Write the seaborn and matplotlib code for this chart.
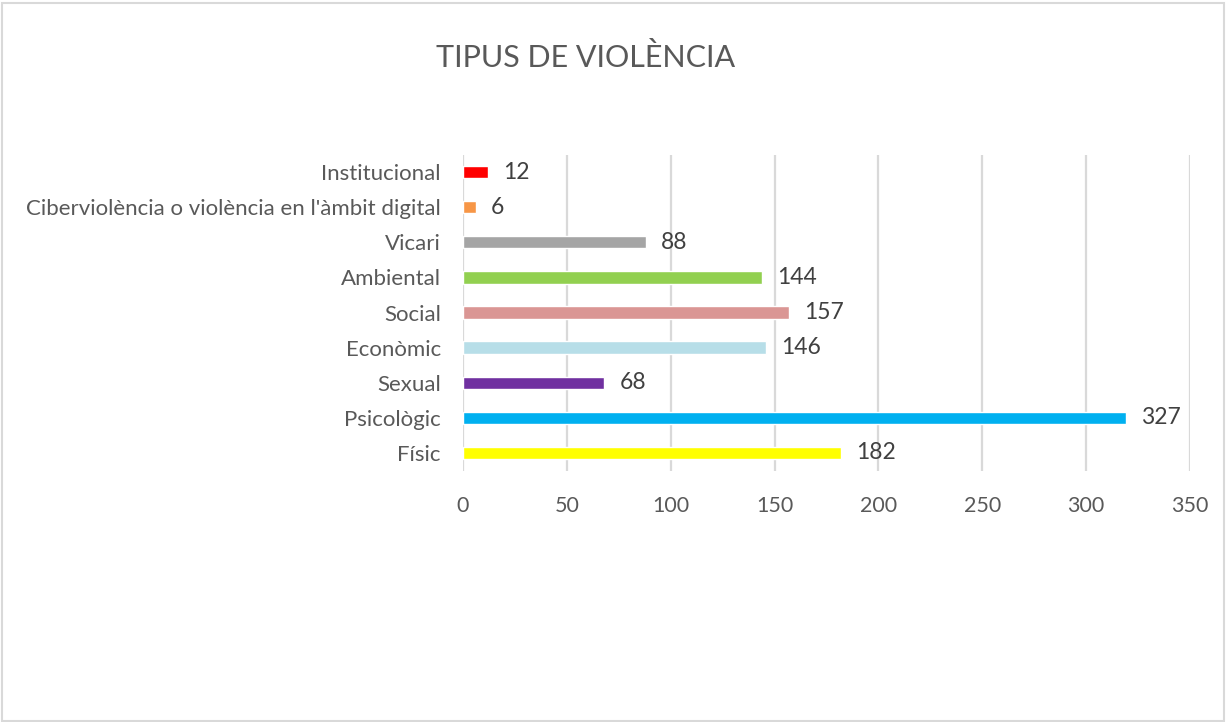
import pandas as pd
import seaborn as sns
import matplotlib.pyplot as plt
from matplotlib.patches import Rectangle

# categories top to bottom, as in the picture
categories = ["Institucional", "Ciberviolència o violència en l'àmbit digital", "Vicari",
              "Ambiental", "Social", "Econòmic", "Sexual", "Psicològic", "Físic"]
# bar lengths as drawn (the Psicològic bar stops near 319 although its label says 327)
values = [12, 6, 88, 144, 157, 146, 68, 319, 182]
value_labels = ["12", "6", "88", "144", "157", "146", "68", "327", "182"]
colors = ["#FF0000", "#F79646", "#A5A5A5", "#92D050", "#DA9694",
          "#B7DEE8", "#7030A0", "#00B0F0", "#FFFF00"]
x_ticks = [0, 50, 100, 150, 200, 250, 300, 350]

sns.set_style("white")
plt.rcParams['font.family'] = ['Lato', 'DejaVu Sans']
text_color = "#595959"

df = pd.DataFrame({"tipus": categories, "casos": values})

fig = plt.figure(figsize=(12.26, 7.22), dpi=100)
ax = fig.add_axes([0.3777, 0.3483, 0.5930, 0.4377])

sns.barplot(data=df, x="casos", y="tipus", hue="tipus", palette=colors,
            order=categories, hue_order=categories, orient="h",
            width=0.35, legend=False, ax=ax, saturation=1)

ax.set_xlim(0, 350)
ax.set_xticks(x_ticks)
ax.xaxis.grid(True, color="#d9d9d9", linewidth=1.6)
ax.set_axisbelow(True)
for s in ax.spines.values():
    s.set_visible(False)
ax.tick_params(axis="both", length=0, colors=text_color)
ax.tick_params(axis="x", pad=18, labelsize=15.5)
ax.tick_params(axis="y", pad=16, labelsize=16)
ax.set_xlabel("")
ax.set_ylabel("")

for i, (v, lab) in enumerate(zip(values, value_labels)):
    ax.annotate(lab, (v, i), xytext=(11, 0), textcoords="offset points",
                va="center", ha="left", fontsize=16.5, color="#404040")

fig.text(0.478, 0.92, "TIPUS DE VIOLÈNCIA", ha="center", va="center",
         fontsize=22, color=text_color)

# light frame round the chart area
fig.patches.append(Rectangle((0.002, 0.002), 0.996, 0.994, transform=fig.transFigure,
                             fill=False, edgecolor="#d9d9d9", linewidth=1.5))

fig.savefig("out.png", dpi=100, facecolor="white")
